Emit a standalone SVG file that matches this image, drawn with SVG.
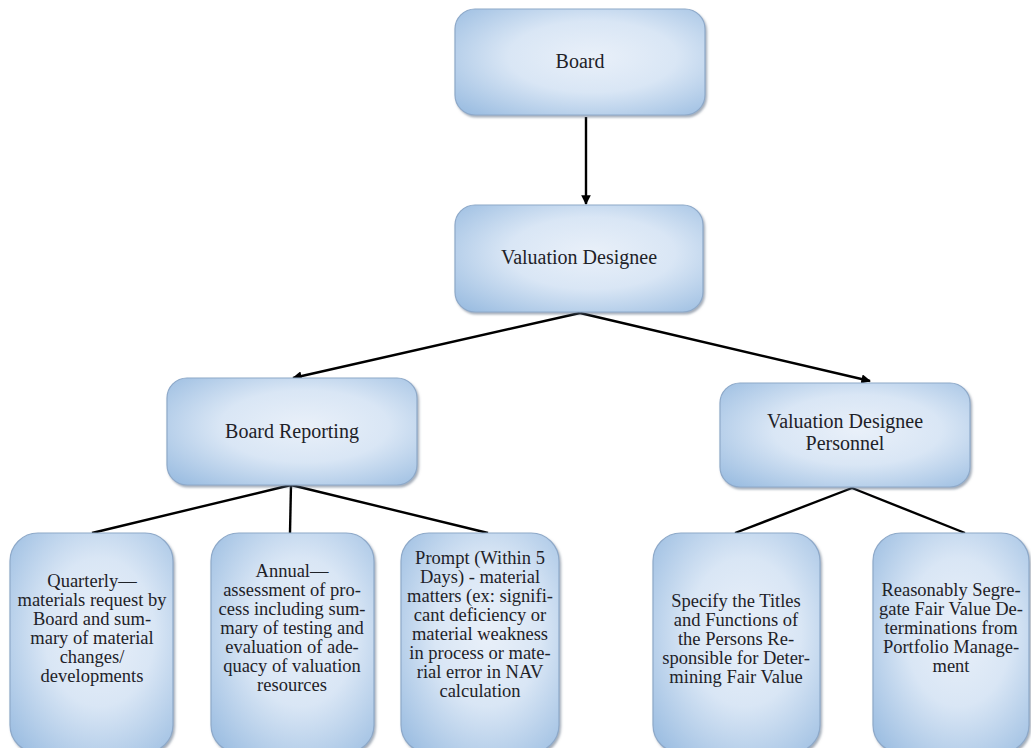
<svg xmlns="http://www.w3.org/2000/svg" width="1031" height="748" viewBox="0 0 1031 748">
<style>
.box{fill:url(#g);stroke:#8ea9c9;stroke-width:1.2;filter:url(#sh)}
.t{font-family:'Liberation Serif','DejaVu Serif','Times New Roman',serif;fill:#1e2228;text-anchor:middle}
.t1{font-size:20px}
.t2{font-size:18.5px}
.c{stroke:#000;stroke-width:2.4;fill:none}
.a{marker-end:url(#ah)}
</style>
<defs>
<radialGradient id="g" cx="55%" cy="45%" r="75%">
<stop offset="0" stop-color="#e9f0f9"/>
<stop offset="0.45" stop-color="#d9e6f5"/>
<stop offset="1" stop-color="#98bbe0"/>
</radialGradient>
<filter id="sh" x="-10%" y="-10%" width="125%" height="125%">
<feDropShadow dx="1.5" dy="2" stdDeviation="1.2" flood-color="#5a6b80" flood-opacity="0.55"/>
</filter>
<marker id="ah" viewBox="0 0 10 10" refX="9" refY="5" markerWidth="4" markerHeight="4" orient="auto" markerUnits="strokeWidth">
<path d="M0,0 L10,5 L0,10 z" fill="#000"/>
</marker>
</defs>

<g id="connectors">
<line class="c a" x1="586" y1="117" x2="586" y2="204"/>
<polyline class="c a" points="580,313 293,378"/>
<polyline class="c a" points="580,313 870,381"/>
<line class="c" x1="291" y1="485" x2="92" y2="533"/>
<line class="c" x1="291" y1="485" x2="290" y2="533"/>
<line class="c" x1="291" y1="485" x2="488" y2="533"/>
<line class="c" x1="852" y1="488" x2="735" y2="533"/>
<line class="c" x1="852" y1="488" x2="965" y2="533"/>
</g>

<g id="board">
<rect class="box" x="455" y="9" width="250" height="106" rx="20"/>
<text class="t t1" font-family="Liberation Serif, serif" x="580" y="68">Board</text>
</g>

<g id="valuation-designee">
<rect class="box" x="455" y="205" width="248" height="107" rx="20"/>
<text class="t t1" x="579" y="264">Valuation Designee</text>
</g>

<g id="board-reporting">
<rect class="box" x="167" y="378" width="250" height="107" rx="20"/>
<text class="t t1" x="292" y="438">Board Reporting</text>
</g>

<g id="vd-personnel">
<rect class="box" x="720" y="383" width="250" height="104" rx="20"/>
<text class="t t1" x="845" y="428">Valuation Designee</text>
<text class="t t1" x="845" y="450">Personnel</text>
</g>

<g id="quarterly">
<rect class="box" x="10" y="533" width="163" height="220" rx="28"/>
<text class="t t2" x="92" y="587">Quarterly—</text>
<text class="t t2" x="92" y="606">materials request by</text>
<text class="t t2" x="92" y="625">Board and sum-</text>
<text class="t t2" x="92" y="644">mary of material</text>
<text class="t t2" x="92" y="663">changes/</text>
<text class="t t2" x="92" y="682">developments</text>
</g>

<g id="annual">
<rect class="box" x="211" y="533" width="163" height="220" rx="28"/>
<text class="t t2" x="292" y="577">Annual—</text>
<text class="t t2" x="292" y="596">assessment of  pro-</text>
<text class="t t2" x="292" y="615">cess including sum-</text>
<text class="t t2" x="292" y="634">mary of testing and</text>
<text class="t t2" x="292" y="653">evaluation of ade-</text>
<text class="t t2" x="292" y="672">quacy of valuation</text>
<text class="t t2" x="292" y="691">resources</text>
</g>

<g id="prompt">
<rect class="box" x="401" y="533" width="158" height="220" rx="28"/>
<text class="t t2" x="480" y="564">Prompt (Within 5</text>
<text class="t t2" x="480" y="583">Days) - material</text>
<text class="t t2" x="480" y="602">matters (ex: signifi-</text>
<text class="t t2" x="480" y="621">cant deficiency or</text>
<text class="t t2" x="480" y="640">material weakness</text>
<text class="t t2" x="480" y="659">in process or mate-</text>
<text class="t t2" x="480" y="678">rial error in NAV</text>
<text class="t t2" x="480" y="697">calculation</text>
</g>

<g id="specify">
<rect class="box" x="653" y="533" width="167" height="220" rx="28"/>
<text class="t t2" x="736" y="607">Specify the Titles</text>
<text class="t t2" x="736" y="626">and Functions of</text>
<text class="t t2" x="736" y="645">the Persons Re-</text>
<text class="t t2" x="736" y="664">sponsible for Deter-</text>
<text class="t t2" x="736" y="683">mining Fair Value</text>
</g>

<g id="segregate">
<rect class="box" x="873" y="533" width="156" height="220" rx="28"/>
<text class="t t2" x="951" y="596">Reasonably Segre-</text>
<text class="t t2" x="951" y="615">gate Fair Value De-</text>
<text class="t t2" x="951" y="634">terminations from</text>
<text class="t t2" x="951" y="653">Portfolio Manage-</text>
<text class="t t2" x="951" y="672">ment</text>
</g>
</svg>
